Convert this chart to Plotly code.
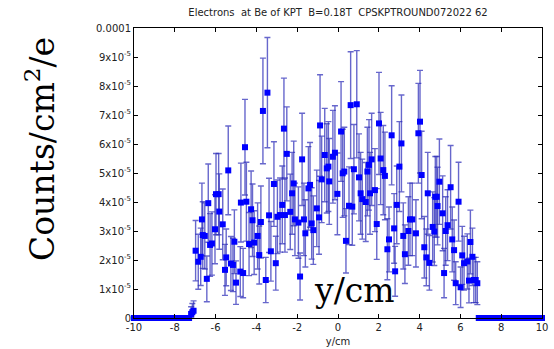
import plotly.graph_objects as go

# bin positions (cm) with non-zero counts
pos_x = [-7.20, -7.14, -7.08, -6.98, -6.85, -6.73, -6.67, -6.63, -6.53, -6.43,
         -6.36, -6.27, -6.18, -6.03, -5.98, -5.85, -5.82, -5.65, -5.54, -5.48,
         -5.38, -5.25, -5.15, -5.08, -5.00, -4.79, -4.76, -4.65, -4.56, -4.49,
         -4.36, -4.26, -4.19, -4.11, -3.94, -3.86, -3.78, -3.68, -3.54, -3.46,
         -3.38, -3.29, -3.14, -3.05, -2.97, -2.84, -2.73, -2.65, -2.60, -2.51,
         -2.34, -2.25, -2.17, -2.11, -1.94, -1.86, -1.76, -1.67, -1.60, -1.45,
         -1.37, -1.29, -1.21, -1.04, -0.93, -0.88, -0.80, -0.65, -0.55, -0.47,
         -0.43, -0.25, -0.15, -0.03, 0.15, 0.23, 0.31, 0.39, 0.54, 0.62,
         0.70, 0.78, 0.92, 1.03, 1.11, 1.19, 1.36, 1.44, 1.52, 1.57,
         1.65, 1.81, 1.90, 2.01, 2.09, 2.22, 2.30, 2.42, 2.50, 2.63,
         2.75, 2.80, 2.88, 3.01, 3.11, 3.20, 3.28, 3.45, 3.53, 3.64,
         3.82, 3.94, 4.02, 4.10, 4.23, 4.33, 4.40, 4.48, 4.64, 4.72,
         4.77, 4.84, 4.88, 4.97, 5.13, 5.20, 5.28, 5.37, 5.52, 5.60,
         5.69, 5.77, 5.91, 6.01, 6.09, 6.18, 6.34, 6.42, 6.49, 6.59,
         6.66, 6.75, 6.83]

# counts per cm^2 per electron, in units of 1e-5
counts_e5 = [0.14, 0.20, 0.25, 2.32, 1.94, 2.11, 3.40, 2.86, 2.83, 1.35,
             3.96, 2.52, 2.57, 3.06, 4.27, 4.27, 3.67, 3.23, 1.66, 2.09,
             5.09, 1.88, 1.83, 2.63, 1.22, 1.60, 3.98, 1.55, 5.89, 4.01,
             2.55, 3.75, 3.37, 2.60, 2.83, 2.17, 3.31, 7.14, 1.31, 7.77,
             3.54, 2.30, 4.62, 1.89, 3.49, 3.55, 3.90, 6.53, 3.55, 5.66,
             3.66, 4.30, 4.64, 3.40, 3.29, 1.43, 5.47, 3.40, 2.92, 4.47,
             4.59, 3.26, 3.03, 3.78, 3.47, 6.64, 4.78, 5.62, 5.16, 5.22,
             4.71, 5.56, 5.70, 4.28, 6.43, 4.99, 5.05, 2.66, 3.87, 7.34,
             3.84, 5.13, 7.37, 4.85, 4.30, 4.10, 4.00, 5.05, 5.28, 4.30,
             5.47, 4.41, 3.24, 6.71, 5.50, 5.10, 4.90, 2.37, 2.71, 6.30,
             3.09, 1.61, 3.90, 5.22, 6.02, 2.83, 2.20, 3.00, 3.40, 3.40,
             2.92, 6.37, 6.77, 4.93, 2.44, 2.09, 4.30, 1.90, 3.14, 2.98,
             4.18, 4.18, 3.86, 4.70, 3.61, 1.55, 3.00, 3.20, 4.51, 2.71,
             2.34, 1.20, 4.01, 1.06, 2.16, 1.89, 1.95, 1.29, 2.62, 2.11,
             1.31, 1.31, 1.20]

# error bars (+/-), in units of 1e-5
errors_e5 = [0.25, 0.30, 0.34, 1.04, 0.95, 0.99, 1.25, 1.15, 1.14, 0.79,
             1.35, 1.08, 1.09, 1.19, 1.40, 1.40, 1.30, 1.22, 0.88, 0.98,
             1.53, 0.93, 0.92, 1.10, 0.75, 0.86, 1.36, 0.85, 1.65, 1.36,
             1.09, 1.32, 1.25, 1.10, 1.14, 1.00, 1.24, 1.82, 0.78, 1.90,
             1.28, 1.03, 1.46, 0.93, 1.27, 1.28, 1.34, 1.74, 1.28, 1.62,
             1.30, 1.41, 1.46, 1.25, 1.23, 0.81, 1.59, 1.25, 1.16, 1.44,
             1.46, 1.23, 1.18, 1.32, 1.27, 1.75, 1.49, 1.61, 1.54, 1.55,
             1.48, 1.60, 1.62, 1.41, 1.72, 1.52, 1.53, 1.11, 1.34, 1.84,
             1.33, 1.54, 1.85, 1.50, 1.41, 1.38, 1.36, 1.53, 1.56, 1.41,
             1.59, 1.43, 1.22, 1.76, 1.59, 1.54, 1.51, 1.05, 1.12, 1.71,
             1.20, 0.86, 1.34, 1.55, 1.67, 1.14, 1.01, 1.18, 1.25, 1.25,
             1.16, 1.72, 1.77, 1.51, 1.06, 0.98, 1.41, 0.94, 1.21, 1.17,
             1.39, 1.39, 1.34, 1.47, 1.29, 0.85, 1.18, 1.22, 1.44, 1.12,
             1.04, 0.74, 1.36, 0.70, 1.00, 0.93, 0.95, 0.77, 1.10, 0.99,
             0.78, 0.78, 0.74]

# empty bins (zero counts)
zero_x_left = [-10.0, -9.9, -9.8, -9.7, -9.6, -9.5, -9.4, -9.3, -9.2, -9.1,
               -9.0, -8.9, -8.8, -8.7, -8.6, -8.5, -8.4, -8.3, -8.2, -8.1,
               -8.0, -7.9, -7.8, -7.7, -7.6, -7.5, -7.4, -7.3]
zero_x_right = [6.9, 7.0, 7.1, 7.2, 7.3, 7.4, 7.5, 7.6, 7.7, 7.8, 7.9,
                8.0, 8.1, 8.2, 8.3, 8.4, 8.5, 8.6, 8.7, 8.8, 8.9,
                9.0, 9.1, 9.2, 9.3, 9.4, 9.5, 9.6, 9.7, 9.8, 9.9, 10.0]
zero_x = zero_x_left + zero_x_right
zero_y = [0.0] * len(zero_x)

x_tickvals = [-10, -8, -6, -4, -2, 0, 2, 4, 6, 8, 10]
x_ticktext = ["-10", "-8", "-6", "-4", "-2", "0", "2", "4", "6", "8", "10"]
y_tickvals = [0, 1, 2, 3, 4, 5, 6, 7, 8, 9, 10]
y_ticktext = ["0"] + ["%dx10<sup>-5</sup>" % k for k in range(1, 10)] + ["0.0001"]

BLUE = "#0000ff"
BAR = "rgba(45,45,185,0.72)"

fig = go.Figure()
fig.add_trace(go.Scatter(
    x=pos_x, y=counts_e5, mode="markers",
    marker=dict(symbol="square", size=6, color=BLUE, line=dict(width=0)),
    error_y=dict(type="data", array=errors_e5, visible=True,
                 color=BAR, thickness=1.4, width=3),
    cliponaxis=False, showlegend=False,
))
fig.add_trace(go.Scatter(
    x=zero_x, y=zero_y, mode="markers",
    marker=dict(symbol="square", size=6, color=BLUE, line=dict(width=0)),
    cliponaxis=False, showlegend=False,
))

font = dict(family="DejaVu Sans", size=10, color="#222222")
fig.update_layout(
    width=554, height=349,
    margin=dict(l=134, r=12, t=28, b=31, pad=0, autoexpand=False),
    paper_bgcolor="white", plot_bgcolor="white",
    font=font,
    title=dict(text="Electrons  at Be of KPT  B=0.18T  CPSKPTROUND072022 62",
               x=0.5, xanchor="center", xref="paper",
               y=1 - 12 / 349, yanchor="middle", yref="container",
               font=dict(family="DejaVu Sans", size=10, color="#222222")),
    xaxis=dict(range=[-10, 10], tickvals=x_tickvals, ticktext=x_ticktext,
               ticks="inside", ticklen=4, tickcolor="black",
               showline=True, linecolor="black", linewidth=1, mirror="ticks",
               showgrid=False, zeroline=False, automargin=False,
               title=dict(text="y/cm", standoff=5, font=font)),
    yaxis=dict(range=[0, 10], tickvals=y_tickvals, ticktext=y_ticktext,
               ticks="inside", ticklen=4, tickcolor="black",
               showline=True, linecolor="black", linewidth=1, mirror="ticks",
               showgrid=False, zeroline=False, automargin=False),
    annotations=[
        dict(text="Counts/cm<sup>2</sup>/e", textangle=-90,
             xref="paper", yref="paper",
             x=(40 - 134) / 408, y=(318 - 149) / 290,
             xanchor="center", yanchor="middle", showarrow=False,
             font=dict(family="DejaVu Serif", size=33, color="black")),
        dict(text="y/cm", xref="paper", yref="paper",
             x=(354 - 134) / 408, y=(318 - 290) / 290,
             xanchor="center", yanchor="middle", showarrow=False,
             font=dict(family="DejaVu Serif", size=33, color="black")),
    ],
)

fig.write_html("out.html")
